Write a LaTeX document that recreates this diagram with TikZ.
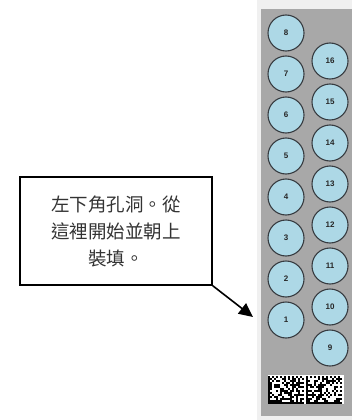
\documentclass[tikz,border=0pt]{standalone}
\usepackage{fontspec}
\usepackage{tikz}
\usetikzlibrary{arrows.meta}
\setsansfont{Liberation Sans}
\newfontfamily\cjk{Noto Sans CJK TC}
\definecolor{traygray}{RGB}{168,168,168}
\definecolor{trayedge}{RGB}{240,240,240}
\definecolor{wellblue}{RGB}{173,216,230}
\definecolor{wellline}{RGB}{55,60,65}

\begin{document}
\begin{tikzpicture}[
  x=1pt, y=-1pt,
  well/.style={
    circle,
    draw=wellline,
    line width=1.1pt,
    fill=wellblue,
    minimum size=36pt,
    inner sep=0pt,
    font=\sffamily\bfseries\fontsize{8}{9}\selectfont,
    text=black!85
  },
  callout/.style={
    draw=black,
    line width=1.6pt,
    fill=white,
    minimum width=192pt,
    minimum height=108pt,
    align=center,
    text=black!80,
    font=\cjk\fontsize{18.5}{27}\selectfont
  }
]
\useasboundingbox (0,0) rectangle (352,420);
\fill[white] (0,0) rectangle (352,420);
% tray
\fill[trayedge] (257,0) rectangle (352,420);
\fill[traygray] (261,9) rectangle (352,416);
% wells, left column 1-8, right column 9-16
\foreach \k in {1,...,8}
  \node[well] (c\k) at (286,{320-41*(\k-1)}) {\k};
\foreach \k in {9,...,16}
  \node[well] (c\k) at (330,{348-41*(\k-9)}) {\k};
% data matrix code
\pgfmathsetseed{17}
\fill[white] (268,375) rectangle (344,404);
\foreach \x in {268,306}{
  \foreach \i in {0,...,17}{
    \foreach \j in {0,...,13}{
      \pgfmathrandominteger{\b}{0}{1}
      \ifnum\i=0 \def\b{1}\fi
      \ifnum\j=13 \def\b{1}\fi
      \ifnum\j=0 \pgfmathtruncatemacro{\b}{1-mod(\i,2)}\fi
      \ifnum\i=17 \pgfmathtruncatemacro{\b}{mod(\j,2)}\fi
      \ifnum\b=1
        \fill[black] ({\x+2*\i},{376+2*\j}) rectangle +(2.1,2.1);
      \fi
    }
  }
}
% note
\node[callout] (note) at (116,231) {左下角孔洞。從\\這裡開始並朝上\\裝填。};
\coordinate (tip) at (253,317);
\draw[line width=1.6pt,-{Triangle[length=14pt,width=13pt]}] (note.south east) -- (tip);
\end{tikzpicture}
\end{document}
